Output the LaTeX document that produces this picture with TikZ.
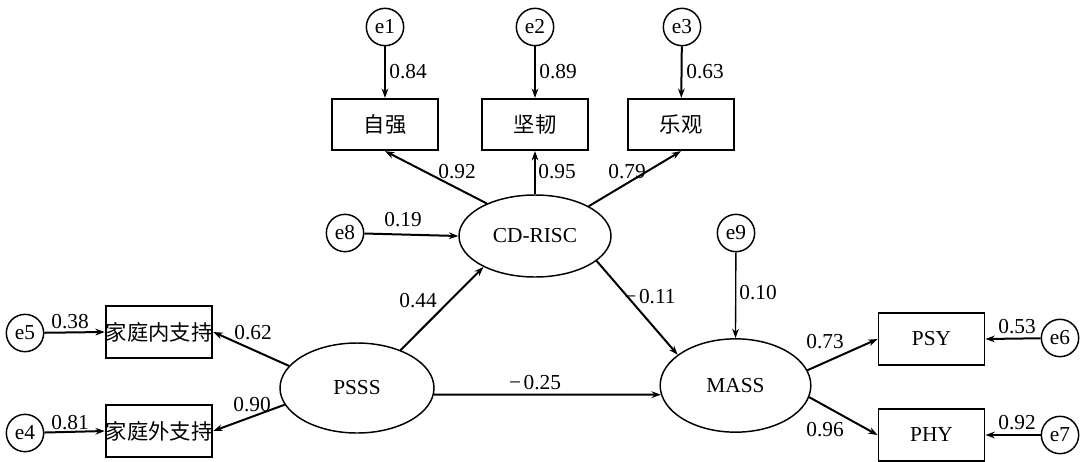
\documentclass[tikz,border=0pt]{standalone}
\usepackage{fontspec}
\setmainfont{Liberation Serif}
\newfontfamily\cjk{Noto Sans CJK SC}
\usetikzlibrary{arrows.meta,shapes.geometric}
\newcommand\mns{−\kern0.12em}
\begin{document}
\begin{tikzpicture}[x=0.75pt,y=-0.75pt,
  font=\fontsize{16}{18}\selectfont,
  obs/.style={draw,line width=1.4pt,minimum width=79.5pt,minimum height=38.5pt,inner sep=0pt},
  lat/.style={draw,ellipse,line width=1.1pt,inner sep=0pt},
  err/.style={draw,circle,line width=1.1pt,minimum size=28pt,inner sep=0pt},
  conn/.style={line width=1.5pt,-{Stealth[length=7pt,width=5pt]}},
  lbl/.style={inner sep=0pt}]
\useasboundingbox (0,0) rectangle (1084,461);
% error terms
\node[err] (e1) at (385,27) {e1};
\node[err] (e2) at (535,27) {e2};
\node[err] (e3) at (682,27) {e3};
\node[err] (e8) at (345,233) {e8};
\node[err] (e9) at (736,233) {e9};
\node[err] (e5) at (25,333) {e5};
\node[err] (e4) at (25,433) {e4};
\node[err] (e6) at (1060,338) {e6};
\node[err] (e7) at (1060,435) {e7};
% observed
\node[obs] (zq) at (385,124.5) {\cjk 自强};
\node[obs] (jr) at (535,124.5) {\cjk 坚韧};
\node[obs] (lg) at (681,124.5) {\cjk 乐观};
\node[obs] (jn) at (159,332) {\cjk 家庭内支持};
\node[obs] (jw) at (159,431) {\cjk 家庭外支持};
\node[obs] (psy) at (931.5,339) {PSY};
\node[obs] (phy) at (931.5,435) {PHY};
% latent
\node[lat,minimum width=114pt,minimum height=61.5pt] (cd) at (535,236) {CD-RISC};
\node[lat,minimum width=115.5pt,minimum height=67.5pt] (psss) at (357,388) {PSSS};
\node[lat,minimum width=113pt,minimum height=70pt] (mass) at (735.5,385.5) {MASS};
% connectors
\draw[conn] (e1) -- (zq);
\draw[conn] (e2) -- (jr);
\draw[conn] (e3) -- (lg);
\draw[conn] (cd.146) -- (zq.south);
\draw[conn] (cd.north) -- (jr.south);
\draw[conn] (cd.29) -- (lg.south);
\draw[conn] (e8) -- (cd.west);
\draw[conn,line width=1pt] (e9) -- (mass.north);
\draw[conn] (cd.-22) -- (mass.152);
\draw[conn] (psss.41) -- (cd.211);
\draw[conn] (psss.-5.2) -- (mass.187.2);
\draw[conn] (psss.162) -- (jn.east);
\draw[conn] (psss.193) -- (jw.east);
\draw[conn] (e5) -- (jn.west);
\draw[conn] (e4) -- (jw.west);
\draw[conn] (mass.12) -- (psy.west);
\draw[conn] (mass.-9) -- (phy.west);
\draw[conn] (e6) -- (psy.east);
\draw[conn] (e7) -- (phy.east);
% labels
\node[lbl] (l1) at (408,72) {0.84};
\node[lbl] (l2) at (558,72) {0.89};
\node[lbl] (l3) at (705,72) {0.63};
\node[lbl] (l4) at (457,172) {0.92};
\node[lbl] (l5) at (557,172) {0.95};
\node[lbl] (l6) at (627,172) {0.79};
\node[lbl] (l7) at (403,220) {0.19};
\node[lbl] (l8) at (650,297) {\mns0.11};
\node[lbl] (l9) at (758,293) {0.10};
\node[lbl] (l10) at (825,342) {0.73};
\node[lbl] (l11) at (825,430) {0.96};
\node[lbl] (l12) at (1017,327) {0.53};
\node[lbl] (l13) at (1017,423) {0.92};
\node[lbl] (l14) at (418,301) {0.44};
\node[lbl] (l15) at (535,383) {\mns0.25};
\node[lbl] (l16) at (70,322) {0.38};
\node[lbl] (l17) at (253,333) {0.62};
\node[lbl] (l18) at (252,405) {0.90};
\node[lbl] (l19) at (70,423) {0.81};
\end{tikzpicture}
\end{document}
